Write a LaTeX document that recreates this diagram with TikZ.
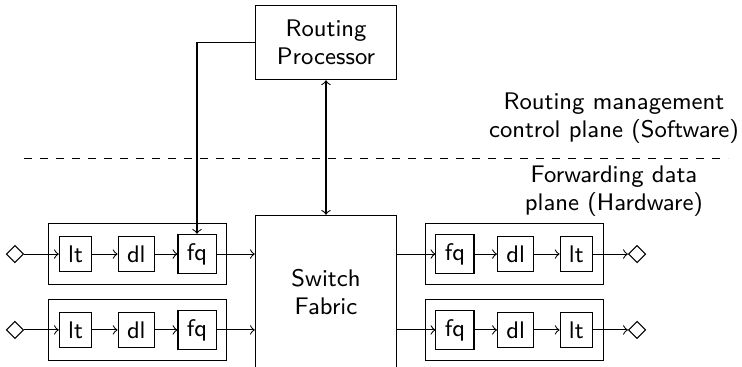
\documentclass[tikz,border=0pt]{standalone}
\usetikzlibrary{shapes,arrows,positioning,fit}
\tikzstyle{block} = [rectangle, draw, align=center, minimum width=53pt]
\tikzstyle{unit} = [rectangle, draw]
\tikzstyle{group} = [rectangle, draw, inner sep=3.8pt]
\tikzstyle{port} = [diamond, draw, inner sep=0pt, minimum size=6.5pt]
\tikzstyle{note} = [align=center]
\tikzstyle{line} = [draw, ->]

\begin{document}
\begin{tikzpicture}[node distance = 0.8cm, font=\sffamily\fontsize{9}{10.5}\selectfont]
    \useasboundingbox (-122.25pt,-28.125pt) rectangle (156pt,109.5pt);
    % Place nodes
    \node [block, minimum height=57.5pt] (fabric) {Switch\\Fabric};
    \node [block, minimum height=28pt, above of=fabric, node distance=93.6pt] (proc) {Routing\\Processor};
    % ingress
    \node [unit] (fqa) at (-1.7,0.5) {fq};
    \node [unit, left of=fqa] (dla) {dl};
    \node [unit, left of=dla] (lta) {lt};
    \node [port, left of=lta] (ina) {};
    \node [unit] (fqb) at (-1.7,-0.5) {fq};
    \node [unit, left of=fqb] (dlb) {dl};
    \node [unit, left of=dlb] (ltb) {lt};
    \node [port, left of=ltb] (inb) {};
    % egress
    \node [unit] (fqc) at (1.7,0.5) {fq};
    \node [unit, right of=fqc] (dlc) {dl};
    \node [unit, right of=dlc] (ltc) {lt};
    \node [port, right of=ltc] (outc) {};
    \node [unit] (fqd) at (1.7,-0.5) {fq};
    \node [unit, right of=fqd] (dld) {dl};
    \node [unit, right of=dld] (ltd) {lt};
    \node [port, right of=ltd] (outd) {};
    % line cards
    \node [group, fit=(lta)(fqa)] (carda) {};
    \node [group, fit=(ltb)(fqb)] (cardb) {};
    \node [group, fit=(fqc)(ltc)] (cardc) {};
    \node [group, fit=(fqd)(ltd)] (cardd) {};
    % planes
    \node [note] (ctrl) at (108pt,65.25pt) {Routing management\\control plane (Software)};
    \node [note] (fwd) at (108pt,37.9pt) {Forwarding data\\plane (Hardware)};
    \draw [dashed] (-113.25pt,50pt) -- (150.75pt,50pt);
    % Draw edges
    \path [line] (ina) -- (lta);
    \path [line] (lta) -- (dla);
    \path [line] (dla) -- (fqa);
    \path [line] (fqa) -- (fqa -| fabric.west);
    \path [line] (inb) -- (ltb);
    \path [line] (ltb) -- (dlb);
    \path [line] (dlb) -- (fqb);
    \path [line] (fqb) -- (fqb -| fabric.west);
    \path [line] (fqc -| fabric.east) -- (fqc);
    \path [line] (fqc) -- (dlc);
    \path [line] (dlc) -- (ltc);
    \path [line] (ltc) -- (outc);
    \path [line] (fqd -| fabric.east) -- (fqd);
    \path [line] (fqd) -- (dld);
    \path [line] (dld) -- (ltd);
    \path [line] (ltd) -- (outd);
    \path [line] (proc.west) -| (fqa.north);
    \path [draw, <->] (proc) -- (fabric);
\end{tikzpicture}
\end{document}
